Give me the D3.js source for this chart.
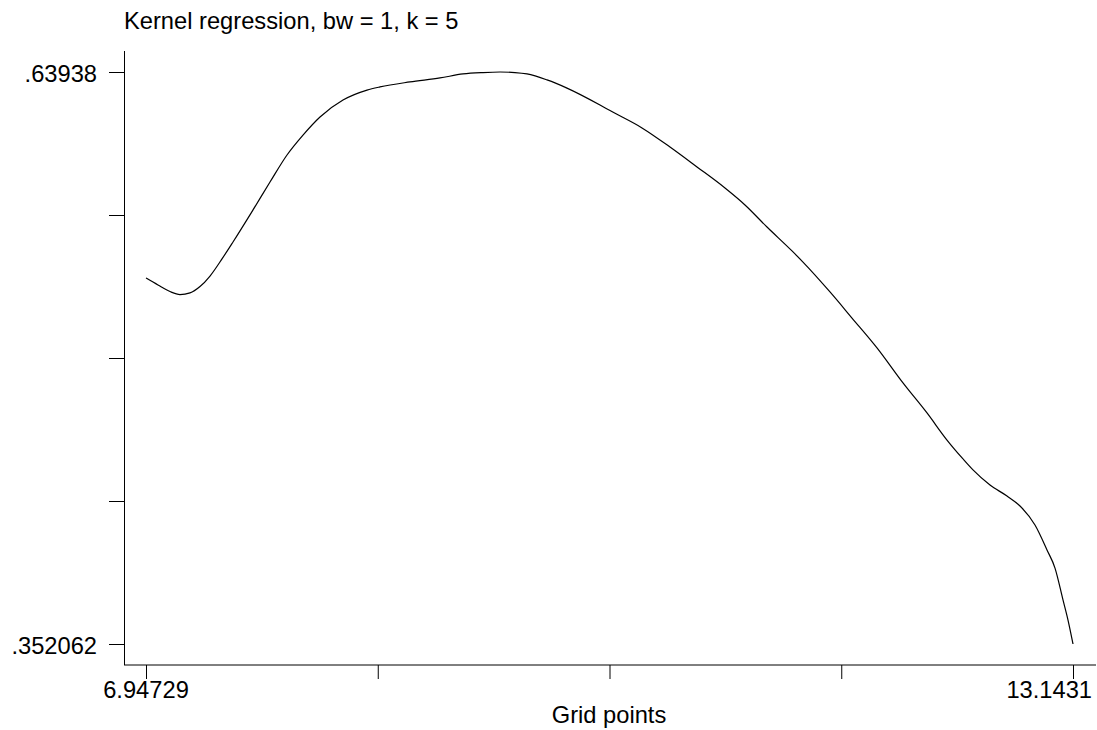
<!DOCTYPE html>
<html>
<head>
<meta charset="utf-8">
<script src="https://cdn.jsdelivr.net/npm/d3@7"></script>
<style>
  body { margin: 0; background: #fff; }
  text { font-family: "Liberation Sans", Arial, sans-serif; font-size: 23.7px; fill: #000; }
</style>
</head>
<body>
<svg id="chart" width="1097" height="730"></svg>
<script>
// grid points (x) and the kernel regression estimate (y)
var gridX = [6.9473, 7.0275, 7.1077, 7.1745, 7.2414, 7.3082, 7.3751, 7.4553, 7.5288, 7.6625,
  7.7761, 7.8897, 7.9966, 8.1103, 8.2640, 8.4244, 8.5113, 8.7118, 8.9123, 9.0660,
  9.1997, 9.3134, 9.4137, 9.4938, 9.6275, 9.7611, 9.9817, 10.0485, 10.2624, 10.4496,
  10.6300, 10.8172, 10.9508, 11.0979, 11.2650, 11.3385, 11.5189, 11.6660, 11.8331, 12.0068,
  12.1673, 12.3009, 12.4079, 12.4747, 12.5883, 12.7020, 12.7888, 12.8891, 12.9693, 13.0228,
  13.0762, 13.1097, 13.1431];
var estimate = [0.5359, 0.5324, 0.5291, 0.5276, 0.5284, 0.5316, 0.5369, 0.5455, 0.5540, 0.5701,
  0.5841, 0.5977, 0.6077, 0.6168, 0.6253, 0.6303, 0.6319, 0.6344, 0.6364, 0.6384,
  0.6391, 0.63938, 0.6391, 0.6384, 0.6354, 0.6313, 0.6228, 0.6200, 0.6113, 0.6017,
  0.5917, 0.5811, 0.5726, 0.5615, 0.5495, 0.5439, 0.5289, 0.5158, 0.5008, 0.4832,
  0.4681, 0.4545, 0.4450, 0.4395, 0.4319, 0.4264, 0.4214, 0.4118, 0.3993, 0.3902,
  0.3742, 0.3641, 0.352062];

var xTickValues = [6.94729, 8.4962425, 10.045195, 11.5941475, 13.1431];
var xTickLabels = ["6.94729", "", "", "", "13.1431"];
var yTickValues = [0.352062, 0.4238915, 0.495721, 0.5675505, 0.63938];
var yTickLabels = [".352062", "", "", "", ".63938"];

var titleText = "Kernel regression, bw = 1, k = 5";
var xTitle = "Grid points";

var svg = d3.select("#chart");

var x = d3.scaleLinear().domain([6.94729, 13.1431]).range([146, 1073]);
var y = d3.scaleLinear().domain([0.352062, 0.63938]).range([644, 72]);

var data = gridX.map(function(d, i) { return {x: d, y: estimate[i]}; });

// title
svg.append("text")
    .attr("x", 124)
    .attr("y", 29)
    .text(titleText);

// y axis
var yAxis = d3.axisLeft(y)
    .tickValues(yTickValues)
    .tickFormat(function(d, i) { return yTickLabels[i]; })
    .tickSize(15)
    .tickPadding(12);

var gy = svg.append("g")
    .attr("transform", "translate(124,0)")
    .call(yAxis);
gy.select(".domain").remove();
gy.selectAll("text")
    .attr("dy", "0.4em")
    .style("font-size", "23.7px")
    .style("font-family", "Liberation Sans, Arial, sans-serif");
gy.selectAll("line").attr("stroke", "#000");
svg.append("line")
    .attr("x1", 124.5).attr("x2", 124.5)
    .attr("y1", 51).attr("y2", 665)
    .attr("stroke", "#000");

// x axis
var xAxis = d3.axisBottom(x)
    .tickValues(xTickValues)
    .tickFormat(function(d, i) { return xTickLabels[i]; })
    .tickSize(14)
    .tickPadding(2)
    .offset(0);

var gx = svg.append("g")
    .attr("transform", "translate(0,665)")
    .call(xAxis);
gx.select(".domain").remove();
gx.selectAll("line").attr("stroke", "#000").attr("transform", "translate(0.5,0)");
gx.selectAll("text")
    .style("font-size", "23.7px")
    .style("font-family", "Liberation Sans, Arial, sans-serif");
// last label is pulled in so it stays inside the frame
gx.selectAll(".tick").filter(function(d, i) { return i === xTickValues.length - 1; })
  .select("text")
    .attr("text-anchor", "end")
    .attr("x", 19);
svg.append("line")
    .attr("x1", 124).attr("x2", 1096)
    .attr("y1", 665).attr("y2", 665)
    .attr("stroke", "#000");

svg.append("text")
    .attr("x", 609)
    .attr("y", 723)
    .attr("text-anchor", "middle")
    .text(xTitle);

// regression line
var line = d3.line()
    .x(function(d) { return x(d.x); })
    .y(function(d) { return y(d.y); })
    .curve(d3.curveMonotoneX);

svg.append("path")
    .datum(data)
    .attr("fill", "none")
    .attr("stroke", "#000")
    .attr("stroke-width", 1.2)
    .attr("d", line);
</script>
</body>
</html>
